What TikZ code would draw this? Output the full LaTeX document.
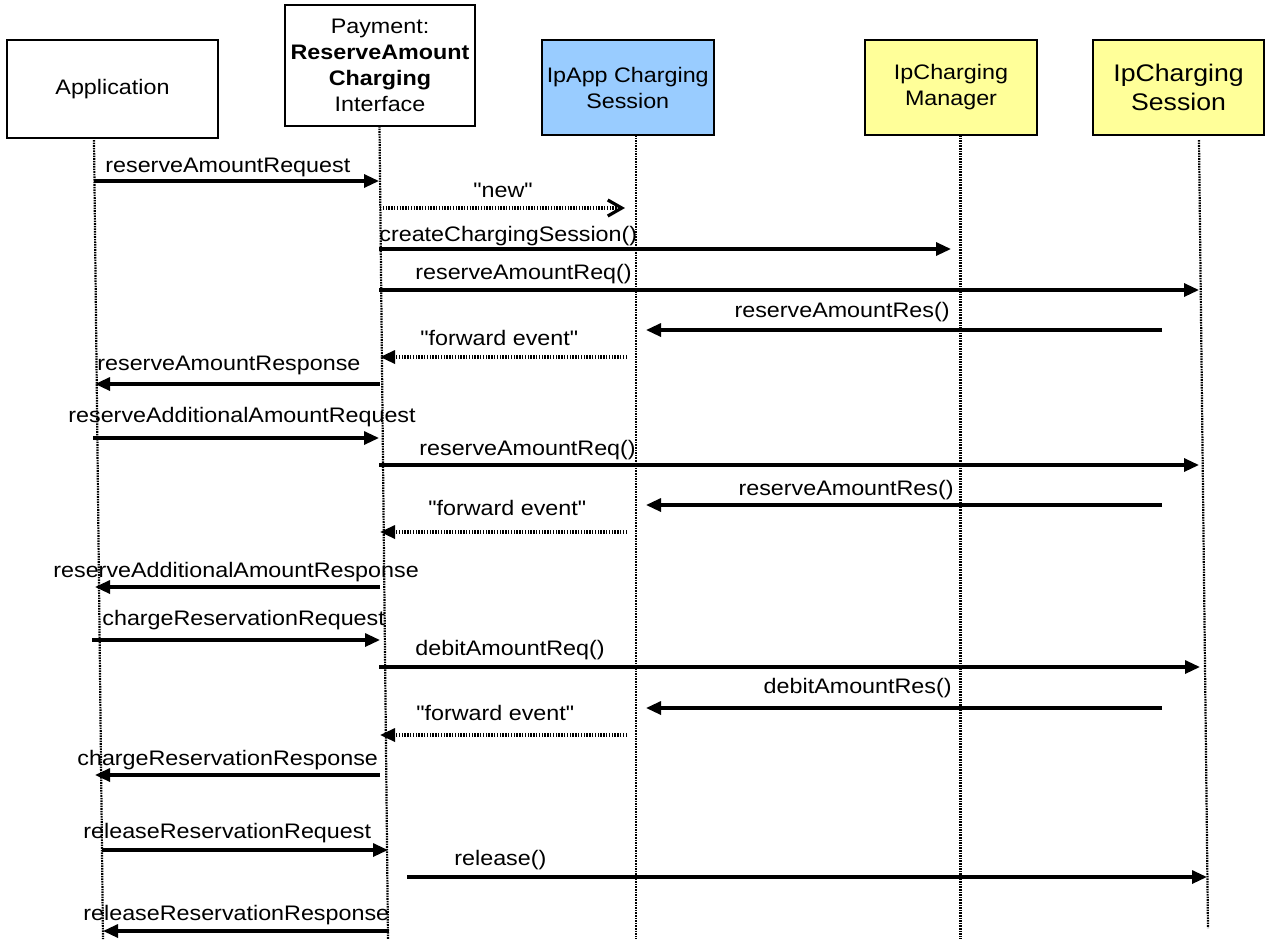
\documentclass[tikz,border=0pt]{standalone}
\usepackage{fontspec}
\setmainfont[FakeStretch=1.11, Ligatures=TeXOff]{Liberation Sans}
\usetikzlibrary{arrows.meta}
\definecolor{appblue}{RGB}{153,204,255}
\definecolor{ipyellow}{RGB}{255,255,153}
\tikzset{
  box/.style={draw=black, line width=1pt, align=center, inner sep=0pt, font=\fontsize{10.5}{13}\selectfont},
  life/.style={line width=1.1pt, dash pattern=on 0.8pt off 0.5pt},
  msg/.style={line width=1.6pt, -{Triangle[length=7.5pt,width=6.5pt]}},
  fwd/.style={msg, dash pattern=on 0.7pt off 0.7pt},
  newmsg/.style={line width=1.6pt, dash pattern=on 0.7pt off 0.7pt, -{Straight Barb[length=7pt,width=8pt]}},
  lbl/.style={anchor=base west, inner sep=0pt, font=\fontsize{10.5}{12}\selectfont},
  rlbl/.style={lbl, anchor=base east}
}
\begin{document}
\begin{tikzpicture}[x=0.5pt,y=-0.5pt]
\useasboundingbox (0,0) rectangle (1265,939);
% objects
\node[box, minimum width=105.5pt, minimum height=49pt] (app) at (112.5,89) {Application};
\node[box, minimum width=95pt, minimum height=60.5pt] (pay) at (380,65.5) {Payment:\\\textbf{ReserveAmount}\\\textbf{Charging}\\Interface};
\node[box, fill=appblue, minimum width=86.25pt, minimum height=47.5pt] (ipapp) at (627.75,87.5) {IpApp Charging\\Session};
\node[box, fill=ipyellow, minimum width=86pt, minimum height=47.5pt] (mgr) at (951,87.5) {IpCharging\\Manager};
\node[box, fill=ipyellow, minimum width=85.5pt, minimum height=47.5pt, font=\fontsize{12}{14.5}\selectfont] (sess) at (1178.5,87.5) {IpCharging\\Session};
% lifelines
\coordinate (appT) at (94,140);    \coordinate (appB) at (103,939);
\coordinate (payT) at (379.5,126); \coordinate (payB) at (388,939);
\coordinate (ipappT) at (636,135); \coordinate (ipappB) at (636,939);
\coordinate (mgrT) at (960.5,135); \coordinate (mgrB) at (960.5,939);
\coordinate (sessT) at (1199,140); \coordinate (sessB) at (1208,928);
\draw[life] (appT) -- (appB);
\draw[life] (payT) -- (payB);
\draw[life] (ipappT) -- (ipappB);
\draw[life] (mgrT) -- (mgrB);
\draw[life] (sessT) -- (sessB);
% message ends
\foreach \i/\xa/\xb/\y in {1/94/379/181, 2/380/625/208, 3/379/951/249, 4/379/1199/290,
  5/1162/646/330, 6/627/380/357, 7/380/95/384, 8/93/379/438, 9/379/1199/465,
  10/1162/646/505, 11/627/380/532, 12/380/95/587, 13/92/380/640, 14/379/1200/667,
  15/1162/646/708, 16/627/380/735, 17/380/95/775, 18/102/388/850, 19/407/1207/877,
  20/389/103/931}
{
  \coordinate (s\i) at (\xa,\y);
  \coordinate (e\i) at (\xb,\y);
}
% messages
\draw[msg] (s1) -- (e1);
\draw[newmsg] (s2) -- (e2);
\draw[msg] (s3) -- (e3);
\draw[msg] (s4) -- (e4);
\draw[msg] (s5) -- (e5);
\draw[fwd] (s6) -- (e6);
\draw[msg] (s7) -- (e7);
\draw[msg] (s8) -- (e8);
\draw[msg] (s9) -- (e9);
\draw[msg] (s10) -- (e10);
\draw[fwd] (s11) -- (e11);
\draw[msg] (s12) -- (e12);
\draw[msg] (s13) -- (e13);
\draw[msg] (s14) -- (e14);
\draw[msg] (s15) -- (e15);
\draw[fwd] (s16) -- (e16);
\draw[msg] (s17) -- (e17);
\draw[msg] (s18) -- (e18);
\draw[msg] (s19) -- (e19);
\draw[msg] (s20) -- (e20);
% labels
\node[lbl] (l1) at (105,172) {reserveAmountRequest};
\node[lbl] (l2) at (473,197) {"new"};
\node[lbl] (l3) at (379,241) {createChargingSession()};
\node[lbl] (l4) at (415,279) {reserveAmountReq()};
\node[rlbl] (l5) at (950,317) {reserveAmountRes()};
\node[lbl] (l6) at (420,345) {"forward event"};
\node[lbl] (l7) at (97,370) {reserveAmountResponse};
\node[lbl] (l8) at (68,422) {reserveAdditionalAmountRequest};
\node[lbl] (l9) at (419,455) {reserveAmountReq()};
\node[rlbl] (l10) at (954,495) {reserveAmountRes()};
\node[lbl] (l11) at (428,515) {"forward event"};
\node[lbl] (l12) at (53,577) {reserveAdditionalAmountResponse};
\node[lbl] (l13) at (102,625) {chargeReservationRequest};
\node[lbl] (l14) at (415,655) {debitAmountReq()};
\node[rlbl] (l15) at (952,693) {debitAmountRes()};
\node[lbl] (l16) at (416,720) {"forward event"};
\node[lbl] (l17) at (77,765) {chargeReservationResponse};
\node[lbl] (l18) at (83,838) {releaseReservationRequest};
\node[lbl] (l19) at (454,865) {release()};
\node[lbl] (l20) at (83,920) {releaseReservationResponse};
\end{tikzpicture}
\end{document}
